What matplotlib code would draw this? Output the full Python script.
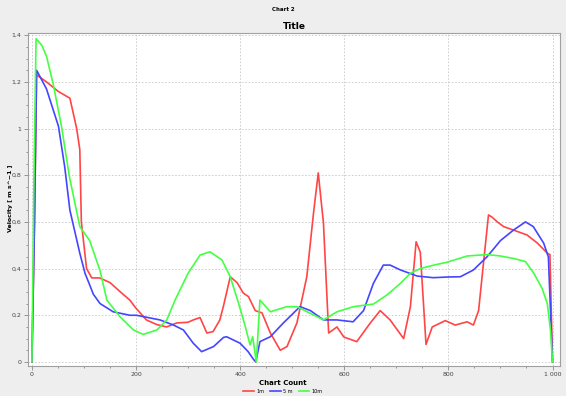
import matplotlib
matplotlib.use("Agg")
import matplotlib.pyplot as plt
from matplotlib.ticker import MultipleLocator, FuncFormatter

# Données
x_1m = [0, 5, 9, 28, 50, 73, 86, 92, 95, 105, 115, 130, 150, 170, 188, 200, 220, 240, 259, 278,
        300, 310, 323, 336, 348, 361, 368, 381, 394, 406, 416, 429, 442, 458, 477, 490, 509,
        528, 541, 550, 560, 570, 586, 599, 624, 650, 669, 688, 714, 727, 738, 746, 757,
        769, 794, 813, 836, 848, 858, 868, 877, 884, 894, 906, 925, 951, 971, 990, 995, 1000]
y_1m = [0, 0.6, 1.23, 1.20, 1.16, 1.13, 1.0, 0.91, 0.6, 0.4, 0.36, 0.36, 0.34, 0.30, 0.265, 0.23, 0.18, 0.16, 0.15, 0.167,
        0.17, 0.18, 0.19, 0.124, 0.13, 0.18, 0.24, 0.365, 0.34, 0.295, 0.28, 0.22, 0.21, 0.124, 0.05, 0.066, 0.167,
        0.365, 0.64, 0.81, 0.595, 0.124, 0.15, 0.107, 0.087, 0.167, 0.22, 0.18, 0.10, 0.237, 0.515, 0.47, 0.075,
        0.15, 0.177, 0.158, 0.172, 0.158, 0.22, 0.437, 0.63, 0.62, 0.60, 0.58, 0.565, 0.544, 0.509, 0.466, 0.46, 0.0]

x_5m = [0, 5, 9, 28, 51, 63, 73, 92, 102, 111, 118, 131, 156, 188, 201, 246, 272, 291, 310, 326,
        349, 368, 374, 400, 415, 426, 430, 438, 458, 483, 515, 535, 560, 586, 617, 637,
        656, 675, 688, 708, 740, 771, 800, 823, 848, 874, 900, 925, 948, 963, 983, 992, 1000]
y_5m = [0, 0.6, 1.25, 1.17, 1.01, 0.836, 0.65, 0.466, 0.38, 0.33, 0.29, 0.25, 0.215, 0.20, 0.20, 0.18, 0.158, 0.137, 0.08, 0.044,
        0.066, 0.105, 0.108, 0.08, 0.045, 0.01, 0.0, 0.087, 0.108, 0.167, 0.237, 0.22, 0.18, 0.18, 0.172, 0.22,
        0.337, 0.415, 0.415, 0.394, 0.368, 0.361, 0.364, 0.365, 0.394, 0.45, 0.52, 0.565, 0.60, 0.58, 0.509, 0.45, 0.0]

x_10m = [0, 4, 8, 19, 28, 41, 57, 72, 92, 111, 131, 144, 169, 195, 214, 240, 259, 275, 300, 323,
         342, 365, 381, 397, 410, 419, 424, 431, 438, 458, 490, 509, 535, 560, 586, 618,
         656, 682, 708, 727, 746, 772, 797, 836, 874, 900, 926, 948, 964, 980, 990, 996, 1000]
y_10m = [0, 0.8, 1.385, 1.357, 1.31, 1.19, 1.007, 0.794, 0.58, 0.52, 0.39, 0.265, 0.194, 0.137, 0.118, 0.137, 0.18, 0.265, 0.38, 0.458,
         0.472, 0.437, 0.365, 0.251, 0.151, 0.073, 0.108, 0.0, 0.265, 0.215, 0.237, 0.237, 0.208, 0.18, 0.215, 0.237,
         0.248, 0.287, 0.337, 0.38, 0.40, 0.415, 0.427, 0.454, 0.46, 0.454, 0.443, 0.43, 0.38, 0.315, 0.25, 0.137, 0.0]

series_labels = ["1m", "5 m", "10m"]
series_colors = ["#ff4545", "#4545ff", "#45ff45"]

fig = plt.figure(figsize=(5.66, 3.96), dpi=100, facecolor="#eeeeee")
ax = fig.add_axes([0.049, 0.076, 0.941, 0.841])
ax.set_facecolor("white")

ax.plot(x_1m, y_1m, color=series_colors[0], lw=1.2, label=series_labels[0])
ax.plot(x_5m, y_5m, color=series_colors[1], lw=1.2, label=series_labels[1])
ax.plot(x_10m, y_10m, color=series_colors[2], lw=1.2, label=series_labels[2])

ax.set_xlim(-8, 1015)
ax.set_ylim(-0.017, 1.41)

ax.xaxis.set_major_locator(MultipleLocator(200))
ax.xaxis.set_minor_locator(MultipleLocator(50))
ax.yaxis.set_major_locator(MultipleLocator(0.2))
ax.yaxis.set_minor_locator(MultipleLocator(0.05))


def fmt_x(v, pos):
    n = int(round(v))
    return "{:,}".format(n).replace(",", " ")


def fmt_y(v, pos):
    s = "{:.1f}".format(v).rstrip("0").rstrip(".")
    return s.replace(".", ",")


ax.xaxis.set_major_formatter(FuncFormatter(fmt_x))
ax.yaxis.set_major_formatter(FuncFormatter(fmt_y))
ax.tick_params(which="both", labelsize=4.5, colors="#888888", labelcolor="#444444", width=0.6, pad=1.5)
ax.tick_params(which="major", length=3)
ax.tick_params(which="minor", length=1.5)

ax.grid(True, which="major", color="#c8c8c8", ls=(0, (2, 2)), lw=0.6)
for sp in ax.spines.values():
    sp.set_color("#a0a0a0")
    sp.set_linewidth(0.8)

ax.set_title("Title", fontsize=6.5, fontweight="bold", pad=3)
fig.text(0.5, 0.975, "Chart 2", ha="center", va="center", fontsize=4, fontweight="bold")
fig.text(0.5, 0.033, "Chart Count", ha="center", va="center", fontsize=5, fontweight="bold")
fig.text(0.018, 0.5, "Velocity [ m s^\u22121 ]", ha="center", va="center", rotation=90,
         fontsize=4.5, fontweight="bold")

fig.legend(loc="center", bbox_to_anchor=(0.5, 0.012), ncol=3, frameon=False,
           fontsize=3.5, handlelength=2.2, columnspacing=1.2, handletextpad=0.5,
           borderpad=0, borderaxespad=0)

plt.savefig("out.png", dpi=100, facecolor=fig.get_facecolor())
